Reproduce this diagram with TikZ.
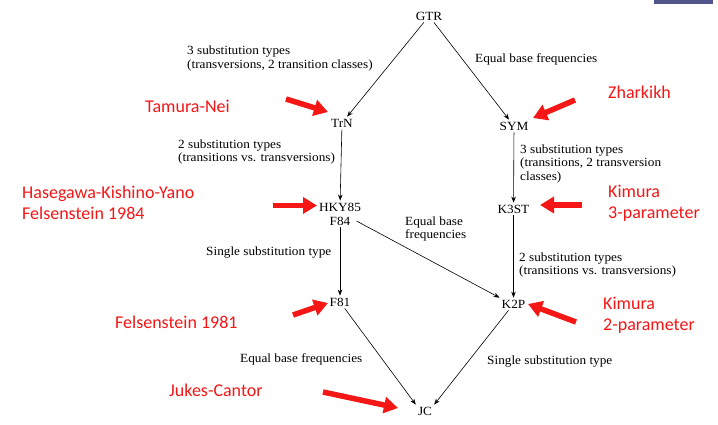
\documentclass[tikz,border=0pt]{standalone}
\usepackage{fontspec}
\setmainfont[FakeStretch=1.06]{Liberation Serif}
\newfontfamily\calib{Carlito}
\usetikzlibrary{arrows.meta}
\definecolor{slideblue}{RGB}{84,84,140}
\definecolor{callred}{RGB}{245,22,22}

\begin{document}
\begin{tikzpicture}[x=1pt,y=-1pt,
  model/.style={inner sep=2pt, font=\fontsize{12.5}{13.5}\selectfont},
  note/.style={inner sep=0pt, anchor=west, align=left, font=\fontsize{12.5}{13.5}\selectfont},
  callout/.style={inner sep=0pt, anchor=west, align=left, text=callred, font=\calib\fontsize{18}{21}\selectfont},
  link/.style={draw=black, line width=0.6pt, -{Stealth[length=6pt,width=4.5pt]}},
  pointer/.style={draw=callred, line width=5.5pt, -{Triangle[length=14pt,width=16pt]}}
]
\useasboundingbox (0,0) rectangle (718,424);
\fill[white] (0,0) rectangle (718,424);
\fill[slideblue] (654,0) rectangle (713,4);

% substitution models
\node[model] (gtr)  at (429,16)    {GTR};
\node[model] (trn)  at (342,123)   {TrN};
\node[model] (sym)  at (514,126)   {SYM};
\node[model] (hky)  at (340,207)   {HKY85};
\node[model] (f84)  at (340,221)   {F84};
\node[model] (k3st) at (513.5,209) {K3ST};
\node[model] (f81)  at (340,302)   {F81};
\node[model] (k2p)  at (513.5,304) {K2P};
\node[model] (jc)   at (425,411)   {JC};

% nesting of the models
\draw[link] (gtr) -- (trn);
\draw[link] (gtr) -- (sym);
\draw[link] (trn) -- (hky);
\draw[link] (sym) -- (k3st);
\draw[link] (f84) -- (f81);
\draw[link] ([xshift=4pt]f84.east) -- (k2p.north west);
\draw[link] (k3st) -- (k2p);
\draw[link] (f81) -- (jc.north west);
\draw[link] (k2p) -- (jc.north east);

% constraints along the edges
\node[note] (n1) at (187,58.5)  {3 substitution types\\(transversions, 2 transition classes)};
\node[note] (n2) at (475,59)    {Equal base frequencies};
\node[note] (n3) at (178,152)   {2 substitution types\\(transitions vs. transversions)};
\node[note] (n4) at (520,163.5) {3 substitution types\\(transitions, 2 transversion\\classes)};
\node[note] (n5) at (405,229)   {Equal base\\frequencies};
\node[note] (n6) at (206,253)   {Single substitution type};
\node[note] (n7) at (519,265)   {2 substitution types\\(transitions vs. transversions)};
\node[note] (n8) at (240,359)   {Equal base frequencies};
\node[note] (n9) at (487,362)   {Single substitution type};

% model names
\node[callout] (c1) at (145,106)   {Tamura-Nei};
\node[callout] (c2) at (608,92)    {Zharkikh};
\node[callout] (c3) at (22,202.5)  {Hasegawa-Kishino-Yano\\Felsenstein 1984};
\node[callout] (c4) at (608,203)   {Kimura\\3-parameter};
\node[callout] (c5) at (115,322)   {Felsenstein 1981};
\node[callout] (c6) at (603,315)   {Kimura\\2-parameter};
\node[callout] (c7) at (169,390)   {Jukes-Cantor};

% red pointers
\coordinate (p1a) at (286,99);  \coordinate (p1b) at (328,112);
\coordinate (p2a) at (575,100); \coordinate (p2b) at (533,118);
\coordinate (p3a) at (273,205.5); \coordinate (p3b) at (317,205.5);
\coordinate (p4a) at (582,205); \coordinate (p4b) at (540,205);
\coordinate (p5a) at (293,315); \coordinate (p5b) at (328,303);
\coordinate (p6a) at (576,322); \coordinate (p6b) at (528,304);
\coordinate (p7a) at (323,392); \coordinate (p7b) at (398,408);
\foreach \i in {1,...,7} \draw[pointer] (p\i a) -- (p\i b);
\end{tikzpicture}
\end{document}
